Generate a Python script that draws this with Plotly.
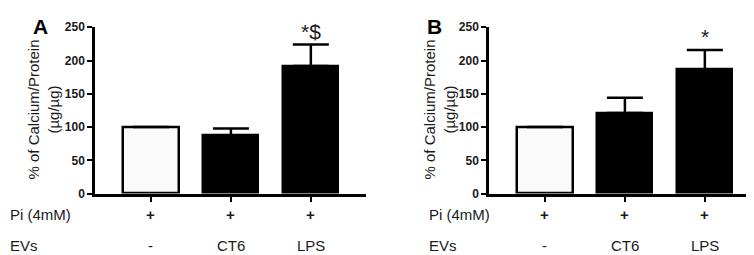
import plotly.graph_objects as go

W, H = 754, 255

categories = ["-", "CT6", "LPS"]
pi_labels = ["+", "+", "+"]
a_vals = [100, 87, 192]
a_err = [0, 11, 32]
b_vals = [100, 121, 187]
b_err = [0, 23, 29]
y_ticks = [0, 50, 100, 150, 200, 250]
sig_a = ["", "", "*$"]
sig_b = ["", "", "*"]

xpos = list(range(len(categories)))
fills = ["#fafafa", "black", "black"]
FONT = "Liberation Sans, Arial, sans-serif"
TXT = "#1a1a1a"

def px(x):
    return x / W

def py(y):
    return (H - y) / H

fig = go.Figure()
for vals, errs, xa, ya in [(a_vals, a_err, "x", "y"), (b_vals, b_err, "x2", "y2")]:
    fig.add_trace(go.Bar(
        x=xpos, y=vals, width=0.69,
        marker=dict(color=fills, line=dict(color="black", width=2.5)),
        error_y=dict(type="data", symmetric=False, array=errs,
                     arrayminus=[0] * len(errs), color="black",
                     thickness=2.5, width=18),
        xaxis=xa, yaxis=ya, showlegend=False,
    ))

ydom = [py(189), py(13)]
axis_common = dict(showline=True, linecolor="black", linewidth=2.5,
                   ticks="outside", tickcolor="black", tickwidth=2,
                   showgrid=False, zeroline=False)
tickfont = dict(size=12, color=TXT, family=FONT, weight="bold")
fig.update_layout(
    width=W, height=H,
    margin=dict(l=0, r=0, t=0, b=0),
    paper_bgcolor="white", plot_bgcolor="white",
    font=dict(family=FONT, color=TXT),
    bargap=0,
    xaxis=dict(domain=[px(87), px(358)], range=[-0.7, 2.69], tickvals=xpos,
               showticklabels=False, ticklen=6, **axis_common),
    xaxis2=dict(domain=[px(481), px(752)], range=[-0.7, 2.69], tickvals=xpos,
                showticklabels=False, ticklen=6, **axis_common),
    yaxis=dict(domain=ydom, range=[0, 250], tickvals=y_ticks, ticklen=5,
               tickfont=tickfont, anchor="x", **axis_common),
    yaxis2=dict(domain=ydom, range=[0, 250], tickvals=y_ticks, ticklen=5,
                tickfont=tickfont, anchor="x2", **axis_common),
)

ann = []
for xr, row_x, title_x, letter, letter_x, sig, vals, errs in [
    ("x", 0, 36, "A", 32, sig_a, a_vals, a_err),
    ("x2", 419, 432, "B", 426, sig_b, b_vals, b_err),
]:
    ann.append(dict(x=px(letter_x), y=py(12), xref="paper", yref="paper", text="<b>%s</b>" % letter,
                    showarrow=False, font=dict(size=21, color="black"), xanchor="center", yanchor="middle"))
    ann.append(dict(x=px(title_x), y=py(100), xref="paper", yref="paper",
                    text="% of Calcium/Protein<br>(µg/µg)", textangle=-90,
                    showarrow=False, font=dict(size=15, color=TXT), xanchor="center", yanchor="middle"))
    ann.append(dict(x=px(row_x), y=py(211), xref="paper", yref="paper", text="Pi (4mM)",
                    showarrow=False, font=dict(size=15, color=TXT), xanchor="left", yanchor="middle"))
    ann.append(dict(x=px(row_x), y=py(244), xref="paper", yref="paper", text="EVs",
                    showarrow=False, font=dict(size=15, color=TXT), xanchor="left", yanchor="middle"))
    for i in xpos:
        ann.append(dict(x=i, y=py(211), xref=xr, yref="paper", text=pi_labels[i],
                        showarrow=False, font=dict(size=15, color=TXT, weight="bold"),
                        xanchor="center", yanchor="middle"))
        ann.append(dict(x=i, y=py(244), xref=xr, yref="paper", text=categories[i],
                        showarrow=False, font=dict(size=15, color=TXT), xanchor="center", yanchor="middle"))
        if sig[i]:
            ann.append(dict(x=i, y=vals[i] + errs[i], xref=xr, yref=xr.replace("x", "y"),
                            text=sig[i], showarrow=False, yshift=0,
                            font=dict(size=21, color=TXT), xanchor="center", yanchor="bottom"))
fig.update_layout(annotations=ann)

fig.write_html("out.html")
